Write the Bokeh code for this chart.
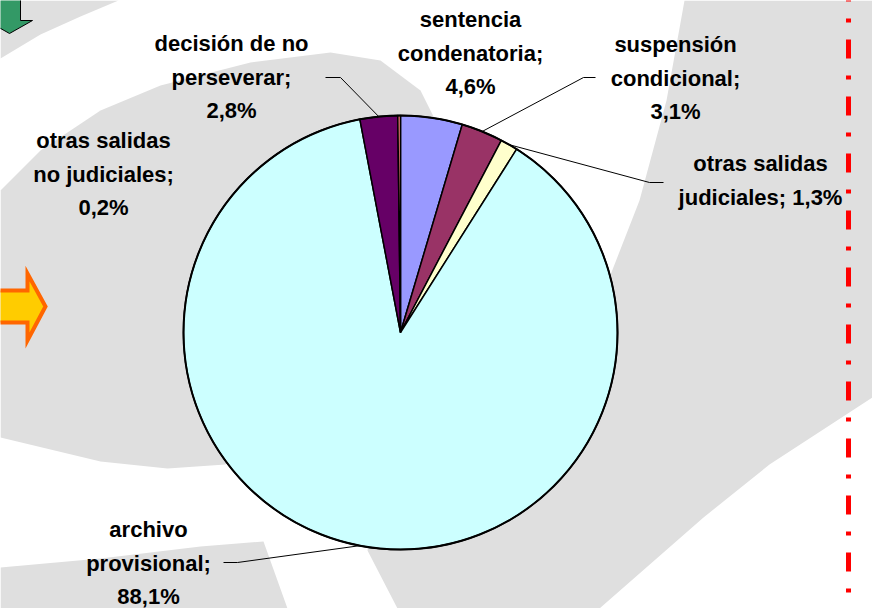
import math
from bokeh.plotting import figure
from bokeh.models import Range1d, ColumnDataSource
from bokeh.core.properties import value
from bokeh.embed import file_html
from bokeh.resources import INLINE

# ---- data ----
categories = ["sentencia\ncondenatoria;", "suspensión\ncondicional;", "otras salidas\njudiciales;",
              "archivo\nprovisional;", "decisión de no\nperseverar;", "otras salidas\nno judiciales;"]
percentages = [4.6, 3.1, 1.3, 88.1, 2.8, 0.2]
colors = ["#9999FF", "#993366", "#FFFFCC", "#CCFFFF", "#660066", "#FF8080"]

# ---- layout (reference pixel coordinates, y downward) ----
W, H = 872, 608
CX, CY, R = 400, 332, 217
FONT = value("Liberation Sans")
LINE_H = 33.5
# label anchor: (center x, first line center y)
label_pos = [(470, 19), (675, 44), (760, 163), (148, 529), (231, 43), (103, 140)]
# same-line joins ("judiciales; 1,3%")
label_join = [False, False, True, False, False, False]
# leader lines: (label end, elbow) or None
leaders = [None, ((595, 77), (583, 77)), ((663, 182), (649, 182)),
           ((223, 562), (237, 562)), ((325, 77), (340, 77)), None]

p = figure(width=W, height=H, output_backend="svg", toolbar_location=None,
           x_range=Range1d(0, W), y_range=Range1d(-H, 0),
           x_axis_location=None, y_axis_location=None, min_border=0,
           background_fill_color="white", border_fill_color="white")
p.grid.visible = False
p.outline_line_color = None

def Y(v):
    return -v

# ---- decorative background ----
GRAY = "#DFDFDF"
bg = [
    [(0, 0), (118, 0), (80, 16), (40, 34), (0, 58)],
    [(0, 190), (40, 150), (100, 110), (160, 85), (250, 62), (330, 52), (380, 60), (420, 90),
     (440, 130), (400, 332), (225, 464), (167, 468), (100, 461), (0, 437)],
    [(684, 0), (880, 0), (880, 391), (872, 397), (769, 464), (703, 517), (599, 608), (397, 608),
     (367, 550), (400, 400), (600, 300), (639, 200), (666, 100)],
    [(0, 567), (100, 558), (200, 546), (263, 541), (287, 608), (0, 608)],
]
p.patches(xs=[[pt[0] for pt in poly] for poly in bg],
          ys=[[Y(pt[1]) for pt in poly] for poly in bg],
          fill_color=GRAY, line_color=None)

# green arrow (top-left)
ga = [(-2, -5), (20, -5), (20, 20), (32, 20), (9, 33), (-14, 20), (-2, 20)]
p.patch([q[0] for q in ga], [Y(q[1]) for q in ga], fill_color="#339966",
        line_color="black", line_width=1)
# orange arrow (left)
oa = [(-10, 290), (27, 290), (27, 273), (45, 306), (27, 340), (27, 322), (-10, 322)]
p.patch([q[0] for q in oa], [Y(q[1]) for q in oa], fill_color="#FFCC00",
        line_color="#FF6600", line_width=4, line_join="miter")
# red dash-dot line (right)
p.line([848, 848], [Y(-18), Y(620)], line_color="#FF0000", line_width=5,
       line_dash="19 17 4 17", line_cap="butt")

# ---- pie ----
total = sum(percentages)
starts, ends, mids = [], [], []
cum = 0.0
for v in percentages:
    a0 = math.pi / 2 - 2 * math.pi * cum / total
    cum += v
    a1 = math.pi / 2 - 2 * math.pi * cum / total
    starts.append(a0)
    ends.append(a1)
    mids.append((a0 + a1) / 2)

src = ColumnDataSource(dict(start=starts, end=ends, color=colors))
p.wedge(x=CX, y=Y(CY), radius=R, start_angle="start", end_angle="end",
        direction="clock", fill_color="color", line_color="black", line_width=1.5, source=src)
p.circle(x=[CX], y=[Y(CY)], radius=R, fill_color=None, line_color="black", line_width=2)

# ---- leader lines ----
for ld, m in zip(leaders, mids):
    if ld is None:
        continue
    (lx, ly), (ex, ey) = ld
    px = CX + R * math.cos(m)
    py = Y(CY) + R * math.sin(m)
    p.line([lx, ex, px], [Y(ly), Y(ey), py], line_color="black", line_width=1)

# ---- labels ----
tx, ty, tt = [], [], []
for cat, v, (ax, ay), join in zip(categories, percentages, label_pos, label_join):
    pct = f"{v:.1f}".replace(".", ",") + "%"
    lines = cat.split("\n")
    if join:
        lines[-1] = lines[-1] + " " + pct
    else:
        lines.append(pct)
    for i, ln in enumerate(lines):
        tx.append(ax)
        ty.append(Y(ay + i * LINE_H))
        tt.append(ln)
p.text(x=tx, y=ty, text=tt, text_font=FONT, text_font_style="bold",
       text_font_size="22px", text_align="center", text_baseline="middle",
       text_color="black")

open("out.html", "w").write(file_html(p, INLINE))
